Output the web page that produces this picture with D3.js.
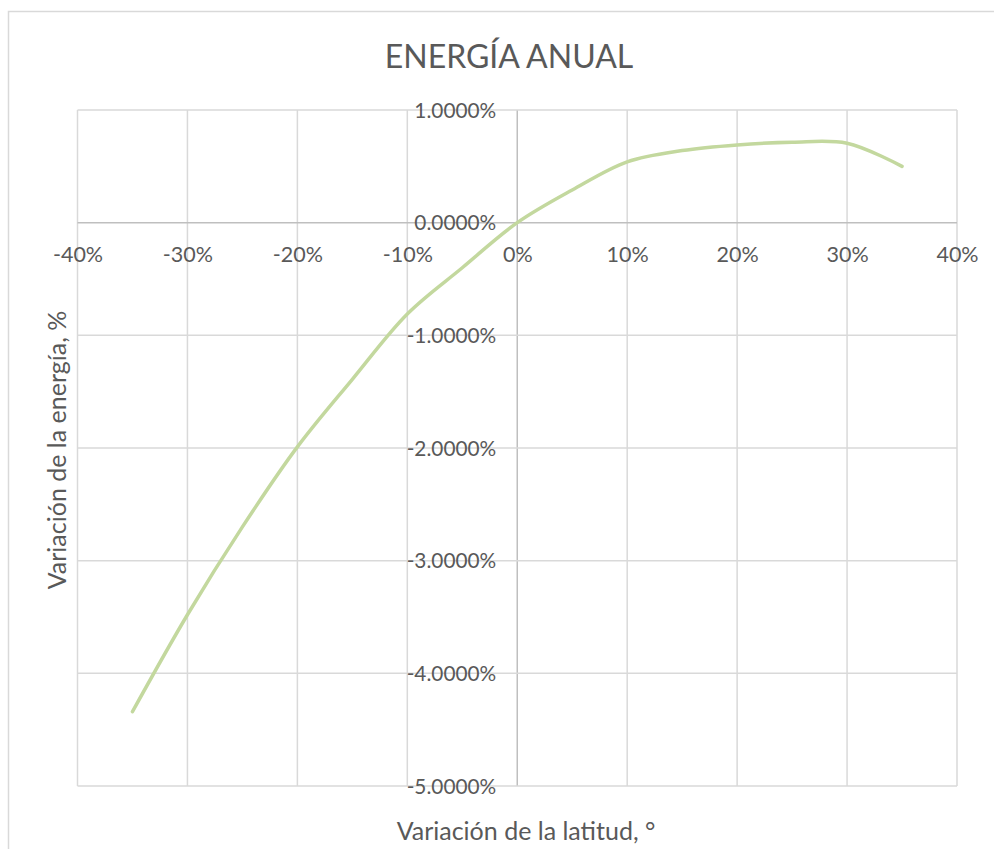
<!DOCTYPE html>
<html>
<head>
<meta charset="utf-8">
<script src="https://cdn.jsdelivr.net/npm/d3@7"></script>
<style>
  html, body { margin: 0; padding: 0; background: #fff; }
  svg { display: block; }
  text { font-family: Lato, "Open Sans", sans-serif; fill: #595959; }
</style>
</head>
<body>
<svg id="chart" width="994" height="849"></svg>
<script>
// Latitude change (%) and the resulting change in annual energy (%)
const latitudeChange = [-35, -30, -25, -20, -15, -10, -5, 0, 5, 10, 15, 20, 25, 30, 35];
const energyChange   = [-4.34, -3.48, -2.70, -1.99, -1.39, -0.81, -0.40, 0, 0.29, 0.54, 0.64, 0.69, 0.714, 0.705, 0.50];

const xTicks = [-40, -30, -20, -10, 0, 10, 20, 30, 40];
const yTicks = [1, 0, -1, -2, -3, -4, -5];

const chartTitle = "ENERGÍA ANUAL";
const xTitle = "Variación de la latitud, °";
const yTitle = "Variación de la energía, %";

const svg = d3.select("#chart");

const plot = { left: 77.5, right: 957, top: 110, bottom: 786 };

const x = d3.scaleLinear().domain([-40, 40]).range([plot.left, plot.right]);
const y = d3.scaleLinear().domain([-5, 1]).range([plot.bottom, plot.top]);

// outer chart frame (continues past the right and bottom edges)
svg.append("rect")
  .attr("x", 8.5).attr("y", 11.5)
  .attr("width", 1100).attr("height", 1000)
  .attr("fill", "none").attr("stroke", "#d9d9d9").attr("stroke-width", 1.5);

// title
svg.append("text")
  .attr("x", 509).attr("y", 68)
  .attr("text-anchor", "middle")
  .style("font-size", "32px")
  .text(chartTitle);

// gridlines
const grid = svg.append("g");
grid.selectAll("line.v").data(xTicks).join("line")
  .attr("class", "v")
  .attr("x1", d => x(d)).attr("x2", d => x(d))
  .attr("y1", plot.top).attr("y2", plot.bottom)
  .attr("stroke", d => d === 0 ? "#bfbfbf" : "#d9d9d9")
  .attr("stroke-width", 1.5);
grid.selectAll("line.h").data(yTicks).join("line")
  .attr("class", "h")
  .attr("x1", plot.left).attr("x2", plot.right)
  .attr("y1", d => y(d)).attr("y2", d => y(d))
  .attr("stroke", d => d === 0 ? "#bfbfbf" : "#d9d9d9")
  .attr("stroke-width", 1.5);

// x tick labels sit just below the horizontal zero axis
const xAxis = d3.axisBottom(x).tickValues(xTicks).tickSize(0).tickPadding(0)
  .tickFormat(d => d + "%");
const gx = svg.append("g").attr("transform", `translate(0,${y(0) + 39})`).call(xAxis);
gx.select(".domain").remove();
gx.selectAll("text").attr("dy", null).attr("y", 0)
  .style("font-size", "21.5px").attr("fill", "#595959");

// y tick labels sit to the left of the vertical zero axis
const yAxis = d3.axisLeft(y).tickValues(yTicks).tickSize(0).tickPadding(0)
  .tickFormat(d => d.toFixed(4) + "%");
const gy = svg.append("g").attr("transform", `translate(${x(0) - 21},0)`).call(yAxis);
gy.select(".domain").remove();
gy.selectAll("text").attr("dy", "0.35em")
  .style("font-size", "20.8px").attr("fill", "#595959");

// axis titles
svg.append("text")
  .attr("x", 526).attr("y", 840)
  .attr("text-anchor", "middle")
  .style("font-size", "25px")
  .text(xTitle);

svg.append("text")
  .attr("transform", "translate(66,450) rotate(-90)")
  .attr("text-anchor", "middle")
  .style("font-size", "25px")
  .text(yTitle);

// energy curve
const points = latitudeChange.map((d, i) => [d, energyChange[i]]);
const line = d3.line()
  .x(d => x(d[0]))
  .y(d => y(d[1]))
  .curve(d3.curveCatmullRom.alpha(0.5));

svg.append("path")
  .datum(points)
  .attr("d", line)
  .attr("fill", "none")
  .attr("stroke", "#c3d89e")
  .attr("stroke-width", 3.5)
  .attr("stroke-linecap", "round")
  .attr("stroke-linejoin", "round");
</script>
</body>
</html>
